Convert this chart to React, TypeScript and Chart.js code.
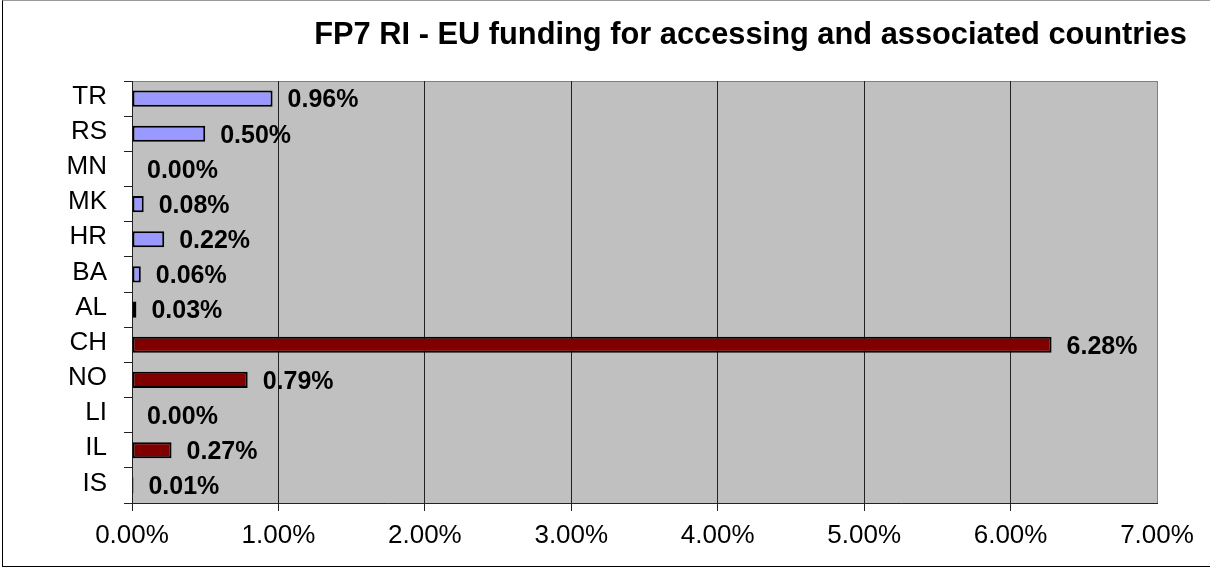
import { useEffect, useRef } from 'react';
import { Chart, registerables } from 'chart.js';

Chart.register(...registerables);

const categories = ['TR', 'RS', 'MN', 'MK', 'HR', 'BA', 'AL', 'CH', 'NO', 'LI', 'IL', 'IS'];
const accessingValues = [0.96, 0.5, 0.0, 0.08, 0.22, 0.06, 0.03, null, null, null, null, null];
const associatedValues = [null, null, null, null, null, null, null, 6.28, 0.79, 0.0, 0.27, 0.01];
const xMin = 0;
const xMax = 7;
const xStep = 1;
const chartTitle = 'FP7 RI - EU funding for accessing and associated countries';

const FONT = '"Liberation Sans", Arial, Helvetica, sans-serif';
const GRID = '#222222';
const PLOT_BORDER = '#808080';

const plotBackground = {
  id: 'plotBackground',
  beforeDraw(chart: any) {
    const { ctx, chartArea } = chart;
    const l = Math.round(chartArea.left) + 0.5;
    const t = Math.round(chartArea.top) + 0.5;
    const r = Math.round(chartArea.right) + 0.5;
    const b = Math.round(chartArea.bottom) + 0.5;
    ctx.save();
    ctx.fillStyle = '#C0C0C0';
    ctx.fillRect(chartArea.left, chartArea.top, chartArea.right - chartArea.left, chartArea.bottom - chartArea.top);
    ctx.strokeStyle = PLOT_BORDER;
    ctx.lineWidth = 1;
    ctx.strokeRect(l, t, r - l, b - t);
    ctx.restore();
  },
};

const valueLabels = {
  id: 'valueLabels',
  afterDatasetsDraw(chart: any) {
    const { ctx } = chart;
    ctx.save();
    ctx.font = `bold 25px ${FONT}`;
    ctx.fillStyle = '#000';
    ctx.textAlign = 'left';
    ctx.textBaseline = 'middle';
    chart.data.datasets.forEach((ds: any, di: number) => {
      const meta = chart.getDatasetMeta(di);
      meta.data.forEach((bar: any, i: number) => {
        const v = ds.data[i];
        if (v === null || v === undefined) return;
        ctx.fillText(`${Number(v).toFixed(2)}%`, bar.x + 15, bar.y + 2);
      });
    });
    ctx.restore();
  },
};

const titleDraw = {
  id: 'titleDraw',
  afterDraw(chart: any) {
    const { ctx } = chart;
    ctx.save();
    ctx.font = `bold 30.8px ${FONT}`;
    ctx.fillStyle = '#000';
    ctx.textAlign = 'right';
    ctx.textBaseline = 'middle';
    ctx.fillText(chartTitle, chart.width - 23, 36);
    ctx.restore();
  },
};

export default function App() {
  const canvasRef = useRef<HTMLCanvasElement | null>(null);

  useEffect(() => {
    if (!canvasRef.current) return;
    const chart = new Chart(canvasRef.current, {
      type: 'bar',
      data: {
        labels: categories,
        datasets: [
          {
            label: 'Accessing countries',
            data: accessingValues as any,
            backgroundColor: '#9999FF',
            borderColor: '#000000',
            borderWidth: 2,
            borderSkipped: false,
            skipNull: true,
            barPercentage: 0.46,
            categoryPercentage: 1,
          },
          {
            label: 'Associated countries',
            data: associatedValues as any,
            backgroundColor: '#800000',
            borderColor: '#000000',
            borderWidth: 2,
            borderSkipped: false,
            skipNull: true,
            barPercentage: 0.46,
            categoryPercentage: 1,
          },
        ],
      },
      options: {
        indexAxis: 'y',
        responsive: false,
        animation: false,
        layout: { padding: { top: 81, right: 53, bottom: 0, left: 0 } },
        plugins: {
          legend: { display: false },
          tooltip: { enabled: false },
          title: { display: false },
        },
        scales: {
          x: {
            min: xMin,
            max: xMax,
            afterFit(scale: any) {
              scale.height = 65;
            },
            ticks: {
              stepSize: xStep,
              autoSkip: false,
              maxRotation: 0,
              padding: 9,
              color: '#000',
              font: { family: FONT, size: 26 },
              callback: (v: any) => `${Number(v).toFixed(2)}%`,
            },
            grid: {
              drawOnChartArea: true,
              tickLength: 8,
              color: (c: any) => (c.tick && c.tick.value === xMax ? PLOT_BORDER : GRID),
              tickColor: (c: any) => (c.tick && c.tick.value === xMax ? 'rgba(0,0,0,0)' : GRID),
              lineWidth: 1,
            },
            border: { display: true, color: GRID, width: 1 },
          },
          y: {
            afterFit(scale: any) {
              scale.width = 132;
            },
            ticks: {
              autoSkip: false,
              padding: 17,
              color: '#000',
              labelOffset: -2,
              font: { family: FONT, size: 26 },
            },
            grid: {
              offset: true,
              drawOnChartArea: false,
              drawTicks: true,
              tickLength: 8,
              color: GRID,
              tickColor: GRID,
            },
            border: { display: true, color: GRID, width: 1 },
          },
        },
      },
      plugins: [plotBackground, valueLabels, titleDraw],
    });
    return () => chart.destroy();
  }, []);

  return (
    <div
      style={{
        position: 'fixed',
        left: 0,
        top: 0,
        width: 1210,
        height: 568,
        overflow: 'hidden',
        background: '#fff',
      }}
    >
      <canvas ref={canvasRef} width={1210} height={568} style={{ display: 'block' }} />
      <div
        style={{
          position: 'absolute',
          left: 2,
          top: 0,
          width: 1240,
          height: 567,
          boxSizing: 'border-box',
          borderLeft: '1px solid #000',
          borderBottom: '1px solid #000',
          borderTop: '1px solid #999',
          pointerEvents: 'none',
        }}
      />
    </div>
  );
}
